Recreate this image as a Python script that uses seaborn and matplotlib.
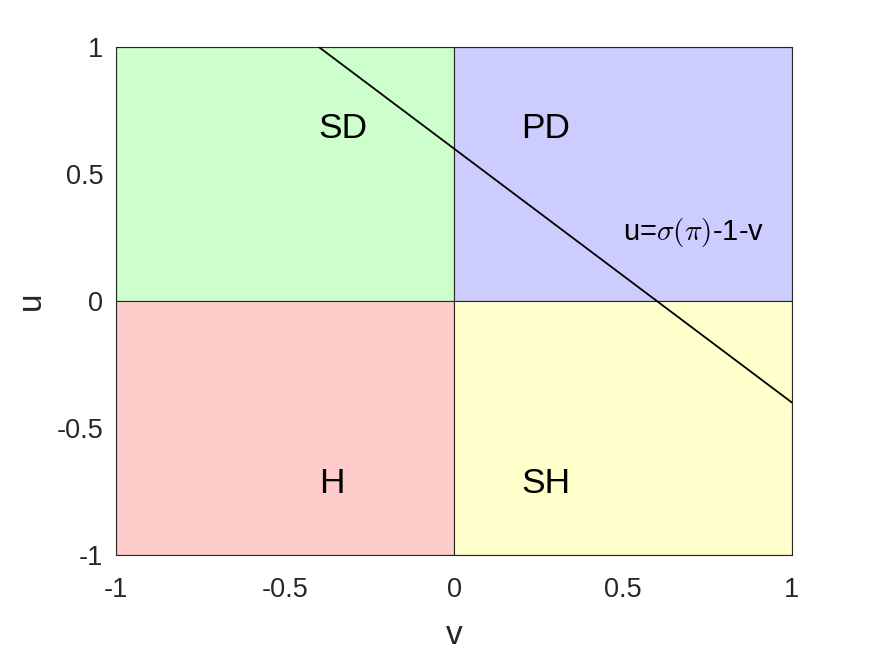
import matplotlib
matplotlib.use("Agg")
import matplotlib.pyplot as plt
import seaborn as sns
import pandas as pd

sns.set_theme(style="white")
plt.rcParams['font.family'] = ['Liberation Sans', 'DejaVu Sans']
plt.rcParams['mathtext.fontset'] = 'cm'

# Quadrants: name, v-range, u-range, colour
quad_names = ["SD", "PD", "H", "SH"]
quad_v0 = [-1, 0, -1, 0]
quad_v1 = [0, 1, 0, 1]
quad_u0 = [0, 0, -1, -1]
quad_u1 = [1, 1, 0, 0]
quad_colors = ["#ccffcc", "#ccccff", "#ffcccc", "#ffffcc"]
label_v = [-0.4, 0.2, -0.4, 0.2]
label_u = [0.68, 0.68, -0.72, -0.72]

# Boundary line u = sigma(pi) - 1 - v
line_v = [-0.4, 1.0]
line_u = [1.0, -0.4]
line_text = r"u=$\sigma(\pi)$-1-v"
line_text_pos = (0.5, 0.27)

ticks = [-1, -0.5, 0, 0.5, 1]
tick_labels = ["-1", "-0.5", "0", "0.5", "1"]

fig = plt.figure(figsize=(8.75, 6.57), dpi=100)
ax = fig.add_axes([116/875, 102/657, 676/875, 508/657])

for name, v0, v1, u0, u1, c, lv, lu in zip(quad_names, quad_v0, quad_v1, quad_u0, quad_u1,
                                          quad_colors, label_v, label_u):
    ax.fill_between([v0, v1], [u0, u0], [u1, u1], facecolor=c, edgecolor="#262626",
                    linewidth=0.8, zorder=1)
    ax.text(lv, lu, name, fontsize=25.5, ha="left", va="center", color="black", zorder=3)

df = pd.DataFrame({"v": line_v, "u": line_u})
sns.lineplot(data=df, x="v", y="u", color="black", linewidth=1.3, ax=ax, zorder=4)
ax.text(line_text_pos[0], line_text_pos[1], line_text, fontsize=21, ha="left",
        va="center", color="black", zorder=3)

ax.set_xlim(-1, 1)
ax.set_ylim(-1, 1)
ax.set_xticks(ticks)
ax.set_xticklabels(tick_labels)
ax.set_yticks(ticks)
ax.set_yticklabels(tick_labels)
ax.tick_params(direction="in", length=6, width=0.6, labelsize=19.5, colors="#262626",
               top=True, right=True, bottom=True, left=True)
ax.tick_params(axis="x", pad=16)
ax.tick_params(axis="y", pad=9)
for lab in ax.get_xticklabels() + ax.get_yticklabels():
    lab.set_color("#262626")
for s in ax.spines.values():
    s.set_color("#262626")
    s.set_linewidth(0.8)
ax.set_xlabel("v", fontsize=24, color="#262626", labelpad=12)
ax.set_ylabel("u", fontsize=24, color="#262626", labelpad=7)

fig.savefig("out.png", dpi=100)
